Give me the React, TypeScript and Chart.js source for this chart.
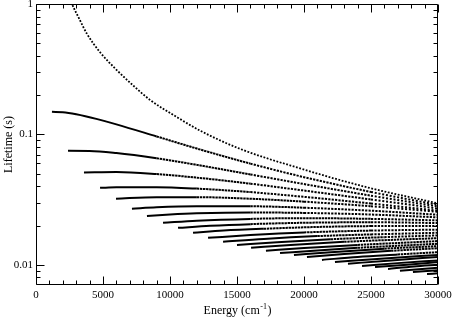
import React, { useEffect, useRef } from 'react';
import { Chart, registerables } from 'chart.js';

Chart.register(...registerables);

// ---- axis ticks ----
const X_MAJOR_TICKS = [0, 5000, 10000, 15000, 20000, 25000, 30000];
const X_MINOR_TICKS = [1000, 2000, 3000, 4000, 6000, 7000, 8000, 9000, 11000, 12000, 13000, 14000,
  16000, 17000, 18000, 19000, 21000, 22000, 23000, 24000, 26000, 27000, 28000, 29000];
const Y_MAJOR_TICKS = [0.01, 0.1, 1];
const Y_MINOR_TICKS = [0.008, 0.009, 0.02, 0.03, 0.04, 0.05, 0.06, 0.07, 0.08, 0.09,
  0.2, 0.3, 0.4, 0.5, 0.6, 0.7, 0.8, 0.9];
const Y_TICK_LABELS = ['0.01', '0.1', '1'];

// ---- series: energy (cm-1) and lifetime (s) for each vibrational level ----
const E_V0 = [2000, 2687, 3200, 3806, 4776, 6045, 7239, 8507, 10500, 12239, 15224, 19701, 24701, 30000];
const T_V0 = [1.54, 1.0, 0.78, 0.59, 0.427, 0.31, 0.238, 0.184, 0.136, 0.107, 0.0775, 0.0549, 0.0393, 0.0296];
const E_V1 = [1190, 2000, 3000, 4500, 6000, 9000, 12000, 16000, 20000, 25000, 30000];
const T_V1 = [0.149, 0.148, 0.1426, 0.1316, 0.1194, 0.0965, 0.0779, 0.0597, 0.047, 0.0362, 0.0288];
const E_V2 = [2390, 4000, 6000, 9000, 12000, 16000, 20000, 25000, 30000];
const T_V2 = [0.0748, 0.0747, 0.072, 0.0656, 0.0584, 0.0493, 0.0416, 0.0339, 0.028];
const E_V3 = [3580, 6000, 9000, 12000, 16000, 20000, 25000, 30000];
const T_V3 = [0.051, 0.0514, 0.0496, 0.0466, 0.0419, 0.0371, 0.0317, 0.027];
const E_V4 = [4780, 6000, 9000, 12000, 16000, 20000, 25000, 30000];
const T_V4 = [0.0389, 0.0393, 0.0394, 0.0384, 0.0361, 0.0332, 0.0295, 0.026];
const E_V5 = [5970, 9000, 12000, 16000, 20000, 25000, 30000];
const T_V5 = [0.0321, 0.033, 0.033, 0.0321, 0.0305, 0.0281, 0.0255];
const E_V6 = [7160, 9000, 12000, 16000, 20000, 25000, 30000];
const T_V6 = [0.0269, 0.0276, 0.0281, 0.0281, 0.0274, 0.026, 0.0242];
const E_V7 = [8280, 10000, 12000, 16000, 20000, 25000, 30000];
const T_V7 = [0.0237, 0.0243, 0.0248, 0.0252, 0.025, 0.0243, 0.0231];
const E_V8 = [9480, 12000, 16000, 20000, 25000, 30000];
const T_V8 = [0.021, 0.0218, 0.0225, 0.0228, 0.0225, 0.0219];
const E_V9 = [10600, 13000, 16000, 20000, 25000, 30000];
const T_V9 = [0.0192, 0.0199, 0.0205, 0.021, 0.0212, 0.0209];
const E_V10 = [11720, 14000, 17000, 21000, 25000, 30000];
const T_V10 = [0.0176, 0.0183, 0.0189, 0.0195, 0.0198, 0.0198];
const E_V11 = [12840, 16000, 20000, 25000, 30000];
const T_V11 = [0.0161, 0.0169, 0.0177, 0.0183, 0.0186];
const E_V12 = [13960, 17000, 21000, 25000, 30000];
const T_V12 = [0.015, 0.0158, 0.0166, 0.0171, 0.0176];
const E_V13 = [15000, 18000, 22000, 26000, 30000];
const T_V13 = [0.0142, 0.0149, 0.0157, 0.0163, 0.0168];
const E_V14 = [16050, 19000, 23000, 27000, 30000];
const T_V14 = [0.0135, 0.0142, 0.015, 0.0156, 0.016];
const E_V15 = [17160, 20000, 24000, 27000, 30000];
const T_V15 = [0.0128, 0.01345, 0.0142, 0.0147, 0.0152];
const E_V16 = [18210, 21000, 24000, 27000, 30000];
const T_V16 = [0.0123, 0.0129, 0.0135, 0.014, 0.0145];
const E_V17 = [19250, 22000, 26000, 30000];
const T_V17 = [0.0119, 0.0125, 0.0133, 0.0139];
const E_V18 = [20220, 23000, 26500, 30000];
const T_V18 = [0.0115, 0.0121, 0.0128, 0.0134];
const E_V19 = [21340, 24000, 27000, 30000];
const T_V19 = [0.0109, 0.0115, 0.012, 0.0125];
const E_V20 = [22310, 26000, 30000];
const T_V20 = [0.0105, 0.0112, 0.0119];
const E_V21 = [23280, 26500, 30000];
const T_V21 = [0.0102, 0.0108, 0.0115];
const E_V22 = [24330, 27000, 30000];
const T_V22 = [0.0098, 0.0103, 0.0108];
const E_V23 = [25300, 27700, 30000];
const T_V23 = [0.0096, 0.01, 0.0105];
const E_V24 = [26270, 28200, 30000];
const T_V24 = [0.0093, 0.0097, 0.01];
const E_V25 = [27160, 30000];
const T_V25 = [0.009, 0.0095];
const E_V26 = [28130, 30000];
const T_V26 = [0.0088, 0.0091];
const E_V27 = [29180, 30000];
const T_V27 = [0.0085, 0.0086];

const CURVES: [number[], number[]][] = [
  [E_V0, T_V0], [E_V1, T_V1], [E_V2, T_V2], [E_V3, T_V3], [E_V4, T_V4], [E_V5, T_V5],
  [E_V6, T_V6], [E_V7, T_V7], [E_V8, T_V8], [E_V9, T_V9], [E_V10, T_V10], [E_V11, T_V11],
  [E_V12, T_V12], [E_V13, T_V13], [E_V14, T_V14], [E_V15, T_V15], [E_V16, T_V16], [E_V17, T_V17],
  [E_V18, T_V18], [E_V19, T_V19], [E_V20, T_V20], [E_V21, T_V21], [E_V22, T_V22], [E_V23, T_V23],
  [E_V24, T_V24], [E_V25, T_V25], [E_V26, T_V26], [E_V27, T_V27],
];

const SERIF = "'Liberation Serif', 'Times New Roman', Times, serif";

function dashFor(offset: number, ground: boolean): number[] {
  if (ground) return [1.8, 1.6];
  if (offset < 5000) return [];
  if (offset < 11000) return [2.4, 0.7];
  if (offset < 19000) return [2.2, 1.2];
  return [2, 1.8];
}

const framePlugin = {
  id: 'frameTicks',
  afterDatasetsDraw(chart: any) {
    const { ctx, chartArea: a, scales } = chart;
    const xs = scales.x;
    const ys = scales.y;
    const L = Math.round(a.left) + 0.5;
    const R = Math.round(a.right) - 0.5;
    const T = Math.round(a.top) + 0.5;
    const B = Math.round(a.bottom) - 0.5;
    ctx.save();
    ctx.strokeStyle = '#000';
    ctx.lineWidth = 1;
    ctx.beginPath();
    ctx.rect(L, T, R - L, B - T);
    const xTick = (v: number, len: number) => {
      const p = Math.round(xs.getPixelForValue(v)) + 0.5;
      ctx.moveTo(p, B); ctx.lineTo(p, B - len);
      ctx.moveTo(p, T); ctx.lineTo(p, T + len);
    };
    const yTick = (v: number, len: number) => {
      const p = Math.round(ys.getPixelForValue(v)) + 0.5;
      ctx.moveTo(L, p); ctx.lineTo(L + len, p);
      ctx.moveTo(R, p); ctx.lineTo(R - len, p);
    };
    X_MAJOR_TICKS.forEach((v) => xTick(v, 8));
    X_MINOR_TICKS.forEach((v) => xTick(v, 4));
    Y_MAJOR_TICKS.forEach((v) => yTick(v, 8));
    Y_MINOR_TICKS.forEach((v) => yTick(v, 4));
    ctx.stroke();
    ctx.restore();
  },
  afterDraw(chart: any) {
    const { ctx, chartArea: a } = chart;
    ctx.save();
    ctx.fillStyle = '#000';
    // y title
    ctx.font = `12px ${SERIF}`;
    ctx.translate(9, (a.top + a.bottom) / 2);
    ctx.rotate(-Math.PI / 2);
    ctx.textAlign = 'center';
    ctx.textBaseline = 'middle';
    ctx.fillText('Lifetime (s)', 0, 0);
    ctx.restore();
    // x title with superscript
    ctx.save();
    ctx.fillStyle = '#000';
    ctx.textAlign = 'left';
    ctx.textBaseline = 'alphabetic';
    const main1 = 'Energy (cm';
    const sup = '-1';
    const main2 = ')';
    ctx.font = `12px ${SERIF}`;
    const w1 = ctx.measureText(main1).width;
    const w3 = ctx.measureText(main2).width;
    ctx.font = `8px ${SERIF}`;
    const w2 = ctx.measureText(sup).width;
    const cx = (a.left + a.right) / 2;
    let x = cx - (w1 + w2 + w3) / 2;
    const base = 314;
    ctx.font = `12px ${SERIF}`;
    ctx.fillText(main1, x, base);
    x += w1;
    ctx.font = `8px ${SERIF}`;
    ctx.fillText(sup, x + 0.5, base - 5);
    x += w2 + 1;
    ctx.font = `12px ${SERIF}`;
    ctx.fillText(main2, x, base);
    ctx.restore();
  },
};

export default function App() {
  const ref = useRef<HTMLCanvasElement>(null);
  useEffect(() => {
    document.body.style.margin = '0';
    const canvas = ref.current;
    if (!canvas) return;
    const datasets = CURVES.map(([E, T], i) => {
      const e0 = E[0];
      return {
        data: E.map((e, k) => ({ x: e, y: T[k] })),
        borderColor: '#000',
        borderWidth: i === 0 ? 1.8 : 2,
        pointRadius: 0,
        fill: false,
        cubicInterpolationMode: 'monotone' as const,
        clip: 0,
        segment: {
          borderDash: (ctx: any) => dashFor(E[ctx.p0DataIndex] - e0, i === 0),
        },
      };
    });
    const chart = new Chart(canvas, {
      type: 'line',
      data: { datasets },
      options: {
        animation: false,
        responsive: false,
        devicePixelRatio: 1,
        events: [],
        layout: { padding: { top: 4, right: 14, left: 0, bottom: 0 } },
        plugins: { legend: { display: false }, tooltip: { enabled: false }, title: { display: false } },
        scales: {
          x: {
            type: 'linear',
            min: 0,
            max: 30000,
            grid: { display: false, drawTicks: false },
            border: { display: false },
            ticks: {
              stepSize: 5000,
              autoSkip: false,
              maxRotation: 0,
              padding: 4,
              color: '#000',
              font: { family: SERIF, size: 11 },
              callback: (v: any) => String(v),
            },
            afterFit: (s: any) => {
              s.height = 32;
              s.paddingLeft = 0;
              s.paddingRight = 0;
            },
          },
          y: {
            type: 'logarithmic',
            min: 0.007,
            max: 1,
            grid: { display: false, drawTicks: false },
            border: { display: false },
            ticks: {
              autoSkip: false,
              padding: 3,
              color: '#000',
              font: { family: SERIF, size: 11 },
              callback: (v: any) => {
                const n = Number(v);
                const idx = Y_MAJOR_TICKS.findIndex((m) => Math.abs(n / m - 1) < 1e-6);
                return idx >= 0 ? Y_TICK_LABELS[idx] : '';
              },
            },
            afterFit: (s: any) => {
              s.width = 36;
              s.paddingTop = 0;
              s.paddingBottom = 0;
            },
          },
        },
      },
      plugins: [framePlugin],
    } as any);
    return () => chart.destroy();
  }, []);
  return (
    <div style={{ width: 452, height: 317 }}>
      <canvas ref={ref} width={452} height={317} style={{ display: 'block' }} />
    </div>
  );
}
